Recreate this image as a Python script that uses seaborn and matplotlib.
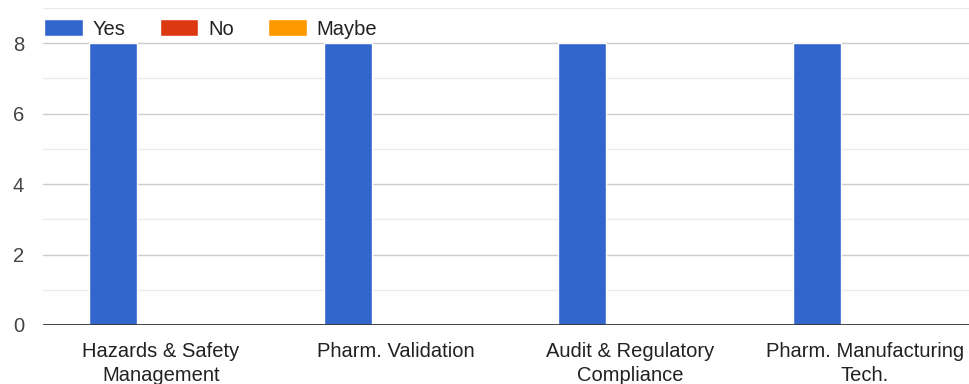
import matplotlib
matplotlib.use("Agg")
import matplotlib.pyplot as plt
import pandas as pd
import seaborn as sns

categories = [
    "Hazards & Safety\nManagement",
    "Pharm. Validation",
    "Audit & Regulatory\nCompliance",
    "Pharm. Manufacturing\nTech.",
]
series = ["Yes", "No", "Maybe"]
yes_counts = [8, 8, 8, 8]
no_counts = [0, 0, 0, 0]
maybe_counts = [0, 0, 0, 0]
colors = ["#3366cc", "#dc3912", "#ff9900"]
y_ticks = [0, 2, 4, 6, 8]


def main():
    sns.set_theme(style="white")
    plt.rcParams["font.family"] = ["Liberation Sans", "DejaVu Sans"]
    fs = 14.5

    df = pd.DataFrame({
        "category": categories * 3,
        "answer": ["Yes"] * 4 + ["No"] * 4 + ["Maybe"] * 4,
        "count": yes_counts + no_counts + maybe_counts,
    })

    fig = plt.figure(figsize=(9.7, 3.84), dpi=100)
    # plot area runs a little past the right edge of the image
    ax = fig.add_axes([43.5 / 970, 1 - 325 / 384, 939 / 970, (325 - 8) / 384])

    sns.barplot(
        data=df, x="category", y="count", hue="answer",
        hue_order=series, palette=colors, width=0.614,
        saturation=1, ax=ax, legend=True,
    )

    ax.set_ylim(0, 9)
    ax.set_xlim(-0.5, 3.5)
    for v in [1, 3, 5, 7, 9]:
        ax.axhline(v, color="#ebebeb", lw=1, zorder=0)
    for v in [2, 4, 6, 8]:
        ax.axhline(v, color="#cccccc", lw=1, zorder=0)
    ax.axhline(0, color="#333333", lw=2, zorder=3)

    ax.set_yticks(y_ticks)
    ax.tick_params(axis="y", length=0, pad=14, labelsize=fs, labelcolor="#444444")
    ax.tick_params(axis="x", length=0, pad=12, labelsize=fs, labelcolor="#222222")
    for lbl in ax.get_xticklabels():
        lbl.set_linespacing(1.36)
    ax.set_xlabel("")
    ax.set_ylabel("")
    for s in ax.spines.values():
        s.set_visible(False)

    handles, labels = ax.get_legend_handles_labels()
    legend_x = 1 / 939
    ax.legend(
        handles, labels, ncol=3, loc="center left",
        bbox_to_anchor=(legend_x, 1 - 21 / 317), frameon=False, fontsize=fs,
        handlelength=1.9, handleheight=0.85, handletextpad=0.5,
        columnspacing=1.7, borderaxespad=0.0, borderpad=0.0,
        labelcolor="#222222",
    )

    fig.savefig("out.png", dpi=100)


if __name__ == "__main__":
    main()
